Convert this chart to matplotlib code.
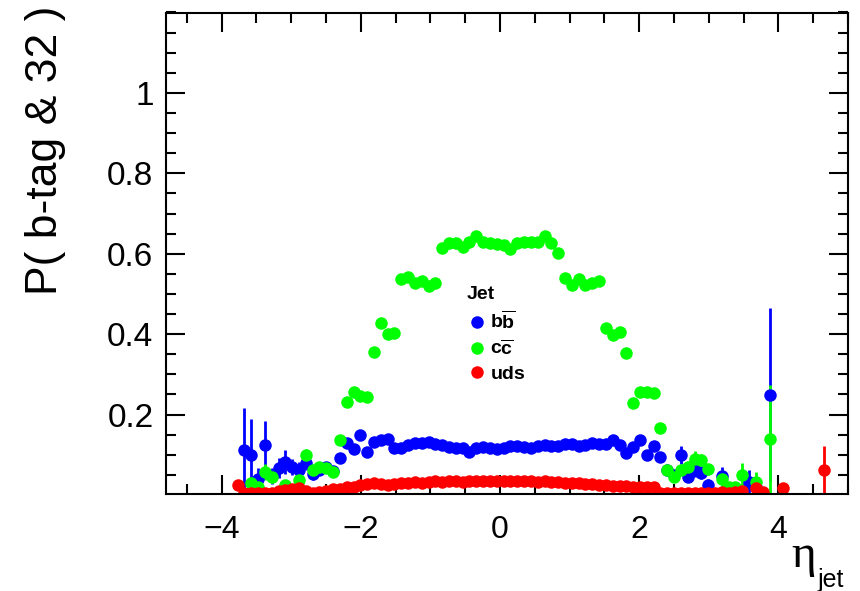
import numpy as np
import matplotlib
matplotlib.use('Agg')
import matplotlib.pyplot as plt
from matplotlib.ticker import MultipleLocator, FixedLocator, FuncFormatter
from matplotlib.lines import Line2D

plt.rcParams['font.family'] = ['Liberation Sans', 'DejaVu Sans']
plt.rcParams['mathtext.fontset'] = 'custom'
plt.rcParams['mathtext.rm'] = 'Liberation Sans'
plt.rcParams['mathtext.bf'] = 'Liberation Sans:bold'

# 100 eta bins spanning the axis range
eta_lo, eta_hi, n_bins = -4.8, 5.0, 100
edges = np.linspace(eta_lo, eta_hi, n_bins + 1)
centers = 0.5 * (edges[:-1] + edges[1:])

nan = np.nan

# b-bbar jets, first filled bin = 11
bb_start = 11
bb_val = [0.112, 0.100, 0.041, 0.124, 0.048, 0.067, 0.083, 0.070, 0.062, 0.080,
          0.052, 0.062, 0.070, 0.060, 0.093, 0.129, 0.115, 0.149, 0.108, 0.133,
          0.137, 0.140, 0.117, 0.118, 0.124, 0.129, 0.130, 0.133, 0.128, 0.125,
          0.120, 0.118, 0.117, 0.106, 0.118, 0.120, 0.116, 0.115, 0.118, 0.121,
          0.122, 0.120, 0.118, 0.122, 0.124, 0.121, 0.123, 0.126, 0.127, 0.121,
          0.124, 0.130, 0.126, 0.128, 0.137, 0.124, 0.104, 0.119, 0.137, 0.100,
          0.122, 0.095, 0.062, 0.050, 0.100, 0.046, 0.062, 0.055, 0.025, nan,
          0.047, nan, nan, nan, 0.033, 0.021, nan, 0.249]
bb_err = [0.105, 0.090, 0.025, 0.060, 0.020, 0.025, 0.030, 0.020, 0.020, 0.018,
          0.015, 0.012, 0.010, 0.010, 0.006, 0.006, 0.006, 0.006, 0.005, 0.005,
          0.005, 0.005, 0.004, 0.004, 0.004, 0.004, 0.004, 0.004, 0.004, 0.004,
          0.004, 0.004, 0.004, 0.004, 0.004, 0.004, 0.004, 0.004, 0.004, 0.004,
          0.004, 0.004, 0.004, 0.004, 0.004, 0.004, 0.004, 0.004, 0.004, 0.004,
          0.004, 0.004, 0.005, 0.005, 0.005, 0.005, 0.006, 0.006, 0.007, 0.008,
          0.008, 0.010, 0.012, 0.012, 0.022, 0.014, 0.016, 0.016, 0.015, nan,
          0.022, nan, nan, nan, 0.030, 0.020, nan, 0.215]

# c-cbar jets, first filled bin = 12
cc_start = 12
cc_val = [0.029, 0.020, 0.058, 0.046, nan, 0.025, nan, 0.037, 0.100, 0.062,
          0.070, 0.066, 0.058, 0.138, 0.232, 0.257, 0.247, 0.243, 0.355, 0.429,
          0.400, 0.404, 0.537, 0.542, 0.528, 0.531, 0.520, 0.527, 0.614, 0.626,
          0.626, 0.616, 0.630, 0.643, 0.630, 0.626, 0.624, 0.622, 0.611, 0.626,
          0.628, 0.628, 0.630, 0.643, 0.626, 0.601, 0.539, 0.522, 0.537, 0.522,
          0.527, 0.531, 0.415, 0.398, 0.406, 0.354, 0.230, 0.255, 0.257, 0.253,
          0.166, 0.062, 0.046, 0.062, 0.070, 0.089, 0.087, 0.064, nan, 0.041,
          0.021, 0.021, 0.050, nan, 0.033, nan, 0.139]
cc_err = [0.015, 0.010, 0.020, 0.015, nan, 0.010, nan, 0.010, 0.015, 0.008,
          0.008, 0.008, 0.008, 0.008, 0.008, 0.008, 0.008, 0.008, 0.008, 0.008,
          0.008, 0.008, 0.008, 0.008, 0.008, 0.008, 0.008, 0.008, 0.008, 0.008,
          0.008, 0.008, 0.008, 0.008, 0.008, 0.008, 0.008, 0.008, 0.008, 0.008,
          0.008, 0.008, 0.008, 0.008, 0.008, 0.008, 0.008, 0.008, 0.008, 0.008,
          0.008, 0.008, 0.008, 0.008, 0.008, 0.008, 0.008, 0.008, 0.008, 0.008,
          0.008, 0.012, 0.012, 0.012, 0.014, 0.020, 0.016, 0.014, nan, 0.020,
          0.012, 0.012, 0.030, nan, 0.025, nan, 0.135]

# uds jets, first filled bin = 10
uds_start = 10
uds_val = [0.025, 0.004, 0.004, 0.005, 0.004, 0.006, 0.011, 0.012, 0.015, 0.017,
           0.010, 0.005, 0.007, 0.011, 0.014, 0.016, 0.019, 0.020, 0.024, 0.027,
           0.029, 0.027, 0.026, 0.027, 0.029, 0.031, 0.032, 0.031, 0.033, 0.034,
           0.033, 0.035, 0.034, 0.033, 0.035, 0.036, 0.035, 0.034, 0.035, 0.034,
           0.035, 0.034, 0.035, 0.034, 0.033, 0.034, 0.033, 0.032, 0.031, 0.030,
           0.029, 0.028, 0.027, 0.026, 0.024, 0.023, 0.022, 0.022, 0.021, 0.020,
           0.021, 0.019, 0.006, 0.004, 0.005, 0.004, 0.005, 0.004, 0.006, 0.005,
           0.004, 0.007, 0.005, 0.008, 0.010, nan, 0.018, 0.008, nan, nan,
           0.018, nan, nan, nan, nan, nan, 0.062]
uds_err = [0.006, 0.002, 0.002, 0.002, 0.002, 0.002, 0.002, 0.002, 0.002, 0.002,
           0.002, 0.002, 0.002, 0.002, 0.002, 0.002, 0.002, 0.002, 0.002, 0.002,
           0.002, 0.002, 0.002, 0.002, 0.002, 0.002, 0.002, 0.002, 0.002, 0.002,
           0.002, 0.002, 0.002, 0.002, 0.002, 0.002, 0.002, 0.002, 0.002, 0.002,
           0.002, 0.002, 0.002, 0.002, 0.002, 0.002, 0.002, 0.002, 0.002, 0.002,
           0.002, 0.002, 0.002, 0.002, 0.002, 0.002, 0.002, 0.002, 0.002, 0.002,
           0.002, 0.002, 0.002, 0.002, 0.002, 0.002, 0.002, 0.002, 0.002, 0.002,
           0.002, 0.003, 0.003, 0.004, 0.005, nan, 0.006, 0.005, nan, nan,
           0.006, nan, nan, nan, nan, nan, 0.060]

series = [
    ('bb', bb_start, bb_val, bb_err, '#0000ff', r'$\mathbf{b\overline{b}}$'),
    ('cc', cc_start, cc_val, cc_err, '#00ff00', r'$\mathbf{c\overline{c}}$'),
    ('uds', uds_start, uds_val, uds_err, '#ff0000', 'uds'),
]

fig = plt.figure(figsize=(8.6, 5.91), dpi=100)
ax = fig.add_axes([166 / 860, 97 / 591, 682 / 860, 481.5 / 591])

handles, labels = [], []
for name, start, vals, errs, col, lab in series:
    vals = np.array(vals, dtype=float)
    errs = np.array(errs, dtype=float)
    x = centers[start:start + len(vals)]
    ok = ~np.isnan(vals)
    ax.errorbar(x[ok], vals[ok], yerr=errs[ok], fmt='o', color=col,
                markersize=9, markeredgewidth=0, elinewidth=2, capsize=0)
    handles.append(Line2D([], [], ls='none', marker='o', color=col,
                          markersize=9, markeredgewidth=0))
    labels.append(lab)

ax.set_xlim(eta_lo, eta_hi)
ax.set_ylim(0.0025, 1.2)

ax.xaxis.set_major_locator(MultipleLocator(2))
ax.xaxis.set_minor_locator(MultipleLocator(0.5))
ax.yaxis.set_major_locator(FixedLocator([0.2, 0.4, 0.6, 0.8, 1.0]))
ax.yaxis.set_minor_locator(MultipleLocator(0.05))
fmt = FuncFormatter(lambda v, _: f'{v:g}'.replace('-', '\u2212'))
ax.xaxis.set_major_formatter(fmt)
ax.yaxis.set_major_formatter(fmt)

ax.tick_params(which='both', direction='in', top=True, right=True, width=1.5)
ax.tick_params(which='major', length=13.5)
ax.tick_params(which='minor', length=7)
ax.tick_params(axis='x', labelsize=23, pad=15)
ax.tick_params(axis='y', labelsize=24, pad=9)
for sp in ax.spines.values():
    sp.set_linewidth(1.5)

fig.text(45 / 860, 1 - 6 / 591, 'P( b-tag & 32 )', rotation=90,
         ha='center', va='top', fontsize=32)
fig.text(804 / 860, 1 - 567 / 591, '\u03b7', family='Liberation Serif',
         ha='center', va='baseline', fontsize=34)
fig.text(831 / 860, 1 - 587 / 591, 'jet', ha='center', va='baseline',
         fontsize=18)

leg = ax.legend(handles, labels, title='Jet', loc='upper left',
                bbox_to_anchor=((467 - 166) / 682, (494 - 286) / 481.5),
                frameon=False, prop={'weight': 'bold', 'size': 14},
                title_fontproperties={'weight': 'bold', 'size': 14},
                handletextpad=0.2, handlelength=1.0, labelspacing=0.35,
                borderaxespad=0, borderpad=0)
leg._legend_box.align = 'left'

fig.savefig('out.png', dpi=100)
